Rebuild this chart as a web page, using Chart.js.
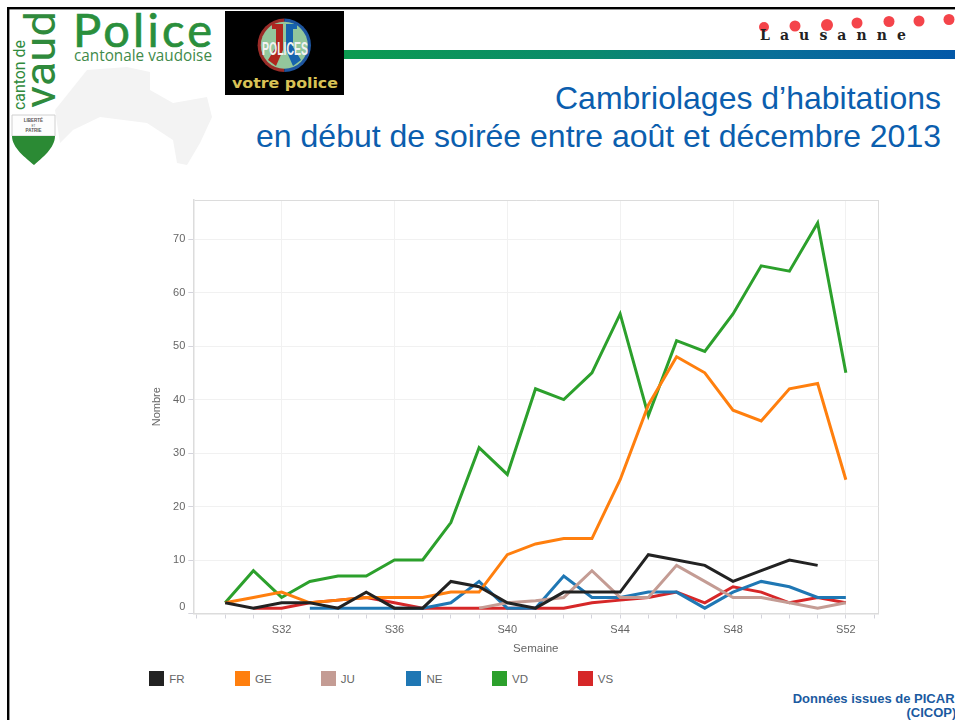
<!DOCTYPE html>
<html lang="fr">
<head>
<meta charset="utf-8">
<title>Cambriolages d'habitations</title>
<script src="https://cdn.jsdelivr.net/npm/chart.js@4"></script>
<style>
html,body{margin:0;padding:0;background:#fff;overflow:hidden;width:955px;height:720px}
#bg{position:absolute;left:0;top:0}
#wrap{position:absolute;left:130px;top:190px;width:760px;height:470px}
#legend{position:absolute;left:0;top:0}
.li{position:absolute;top:671px;height:15px;font:11.5px "Liberation Sans",Arial,sans-serif;color:#666;line-height:16px;white-space:nowrap}
.li i{position:absolute;left:0;top:0;width:15px;height:15px}
.li span{position:absolute;left:20px;top:0}
</style>
</head>
<body>
<svg id="bg" width="955" height="720" viewBox="0 0 955 720" xmlns="http://www.w3.org/2000/svg">
  <defs>
    <linearGradient id="bar" x1="0" x2="1" y1="0" y2="0">
      <stop offset="0" stop-color="#0c9b50"/><stop offset="0.4" stop-color="#0a8a6c"/>
      <stop offset="0.7" stop-color="#096f98"/><stop offset="1" stop-color="#0458a8"/>
    </linearGradient>
  </defs>
  <rect x="7" y="7" width="948" height="2.400" fill="#000"/>
  <rect x="7" y="7" width="2.400" height="713" fill="#000"/>
  <path d="M55 110 87 70 127 67 150 72 150 90 173 103 207 97 212 117 200 143 187 165 177 163 173 140 147 123 100 117 73 130 60 143Z" fill="#f3f3f3"/>
  <text transform="translate(25,110) rotate(-90)" font-family="Roboto,'Liberation Sans'" font-weight="400" font-size="16" fill="#2f8a3c" textLength="70" lengthAdjust="spacingAndGlyphs">canton de</text>
  <text transform="translate(55,108) rotate(-90)" font-family="Roboto,'Liberation Sans'" font-weight="400" font-size="42" fill="#2f8a3c" textLength="97" lengthAdjust="spacingAndGlyphs">vaud</text>
  <path d="M12 115H55V136H12Z" fill="#fdfdfd" stroke="#d0d0d0" stroke-width="1"/>
  <path d="M12 136H55C55 148 42 158 34 165 26 158 12 148 12 136Z" fill="#2b8a34"/>
  <text x="33.500" y="122" text-anchor="middle" font-family="'Liberation Sans'" font-size="4.500" font-weight="bold" fill="#555">LIBERTÉ</text>
  <text x="33.500" y="127" text-anchor="middle" font-family="'Liberation Sans'" font-size="3" fill="#555">ET</text>
  <text x="33.500" y="132" text-anchor="middle" font-family="'Liberation Sans'" font-size="4.500" font-weight="bold" fill="#555">PATRIE</text>
  <text x="73" y="47" font-family="Lato,'Liberation Sans'" font-size="47" fill="#2a8f3c" stroke="#2a8f3c" stroke-width="0.700" textLength="139">Police</text>
  <text x="74" y="61" font-family="'Open Sans','Liberation Sans'" font-size="16.500" fill="#3f8a4a" textLength="138" lengthAdjust="spacingAndGlyphs">cantonale vaudoise</text>

  <rect x="225" y="11" width="119" height="84" fill="#000"/>
  <path d="M284.300 18.600A26.700 26.700 0 0 0 284.300 72Z" fill="#9b2c28"/>
  <path d="M284.300 18.600A26.700 26.700 0 0 1 284.300 72Z" fill="#1d55a0"/>
  <circle cx="284.300" cy="45.300" r="23.500" fill="#93c79c"/>
  <path d="M272 24H283V50L276 66 268 60 276 47V29H272Z" fill="#b0261f"/>
  <path d="M286 24H297V29H293V47L301 60 293 66 286 50Z" fill="#1763ad"/>
  <text x="285" y="55" text-anchor="middle" font-family="'Liberation Sans'" font-weight="bold" font-size="18" fill="#f2f2f2" textLength="46" lengthAdjust="spacingAndGlyphs">POLICES</text>
  <text x="232" y="88" font-family="'DejaVu Sans'" font-weight="bold" font-size="14" fill="#d9c255" textLength="106" lengthAdjust="spacingAndGlyphs">votre police</text>

  <rect x="344" y="50" width="611" height="9" fill="url(#bar)"/>
  <g fill="#f4444a">
    <circle cx="764" cy="27" r="5"/><circle cx="795" cy="26" r="5.500"/><circle cx="827" cy="25" r="6"/>
    <circle cx="857" cy="23" r="5.500"/><circle cx="889" cy="21.500" r="5.500"/><circle cx="919" cy="21" r="5.500"/><circle cx="949" cy="19.500" r="5.500"/>
  </g>
  <text x="760" y="40" font-family="'DejaVu Serif',serif" font-weight="bold" font-size="14" fill="#222" textLength="146">Lausanne</text>

  <g font-family="'Liberation Sans',Arial,sans-serif" font-size="32" fill="#0b5eae" text-anchor="end">
    <text x="941" y="109">Cambriolages d’habitations</text>
    <text x="941" y="147">en début de soirée entre août et décembre 2013</text>
  </g>
  <g font-family="'Liberation Sans',Arial,sans-serif" font-size="13" font-weight="bold" fill="#1a5aa0">
    <text x="792.700" y="702.700">Données issues de PICAR</text>
    <text x="906.500" y="717">(CICOP)</text>
  </g>
</svg>
<div id="wrap"><canvas id="c" width="760" height="470"></canvas></div>
<div id="legend"></div>
<script>
const weeks = [30,31,32,33,34,35,36,37,38,39,40,41,42,43,44,45,46,47,48,49,50,51,52];
const seriesNames = ['FR','GE','JU','NE','VD','VS'];
const seriesColors = ['#222222','#ff7f0e','#c49c94','#1f77b4','#2ca02c','#d62728'];
const FR = [2,1,2,2,1,4,1,1,6,5,2,1,4,4,4,11,10,9,6,8,10,9,null];
const GE = [2,3,4,2,2.5,3,3,3,4,4,11,13,14,14,25,39,48,45,38,36,42,43,25];
const JU = [null,null,null,null,null,null,null,null,null,1,2,2.4,3,8,3,3,9,6,3,3,2,1,2];
const NE = [null,null,null,1,1,1,1,1,2,6,1,1,7,3,3,4,4,1,4,6,5,3,3];
const VD = [2,8,3,6,7,7,10,10,17,31,26,42,40,45,56,37,51,49,56,65,64,73,45];
const VS = [null,1,1,2,2.5,3,2,1,1,1,1,1,1,2,2.5,3,4,2,5,4,2,3,2];
const seriesValues = [FR,GE,JU,NE,VD,VS];
const yTicks = [0,10,20,30,40,50,60,70];
const xLabelWeeks = [32,36,40,44,48,52];
const xMinor = [29,30,31,33,34,35,37,38,39,41,42,43,45,46,47,49,50,51,53];
const xMin = 28.87, xMax = 53.15, yMax = 77.3;

const inkGrid = '#f1f1f1', inkFrame = '#dcdcdc', inkText = '#666666', inkTick = '#d4d4dc';

new Chart(document.getElementById('c'), {
  type: 'line',
  data: {
    datasets: seriesNames.map((name, i) => ({
      label: name,
      data: weeks.map((w, k) => ({x: w, y: seriesValues[i][k]})),
      borderColor: seriesColors[i],
      backgroundColor: seriesColors[i],
      borderWidth: 3,
      pointRadius: 0,
      tension: 0,
      fill: false,
      spanGaps: false
    }))
  },
  options: {
    responsive: false,
    animation: false,
    layout: {padding: {top: 10, right: 11.7, left: 0, bottom: 0}},
    plugins: {legend: {display: false}, tooltip: {enabled: false}},
    scales: {
      x: {
        type: 'linear', min: xMin, max: xMax,
        afterFit: s => { s.height = 46.5; },
        afterBuildTicks: s => {
          s.ticks = [xMin, ...xMinor, ...xLabelWeeks, xMax].sort((a, b) => a - b).map(v => ({value: v}));
        },
        border: {color: inkFrame, width: 1.5},
        grid: {
          drawOnChartArea: true,
          tickLength: 5,
          color: c => c.tick && xLabelWeeks.includes(c.tick.value) ? inkGrid : (c.tick && c.tick.value === xMax ? inkFrame : 'rgba(0,0,0,0)'),
          tickColor: c => c.tick && (c.tick.value === xMin || c.tick.value === xMax) ? 'rgba(0,0,0,0)' : inkTick
        },
        ticks: {
          autoSkip: false, maxRotation: 0, minRotation: 0, padding: 5,
          color: inkText, font: {family: '"Liberation Sans",Arial,sans-serif', size: 11},
          callback: v => xLabelWeeks.includes(v) ? 'S' + v : ''
        },
        title: {display: true, text: 'Semaine', color: inkText, padding: {top: 0, bottom: 4},
          font: {family: '"Liberation Sans",Arial,sans-serif', size: 11.5}}
      },
      y: {
        min: 0, max: yMax,
        afterFit: s => { s.width = 63.3; },
        afterBuildTicks: s => { s.ticks = [...yTicks, yMax].map(v => ({value: v})); },
        border: {color: inkFrame, width: 1.5},
        grid: {
          tickLength: 5,
          color: c => c.tick && c.tick.value === yMax ? inkFrame : (c.tick && c.tick.value === 0 ? 'rgba(0,0,0,0)' : inkGrid),
          tickColor: c => c.tick && c.tick.value === yMax ? 'rgba(0,0,0,0)' : inkTick
        },
        ticks: {
          autoSkip: false, padding: 3,
          color: inkText, font: {family: '"Liberation Sans",Arial,sans-serif', size: 11},
          callback: v => v === yMax ? '' : (v === 0 ? ['0', ''] : String(v))
        },
        title: {display: true, text: 'Nombre', color: inkText, padding: {top: 20, bottom: 0},
          font: {family: '"Liberation Sans",Arial,sans-serif', size: 11}}
      }
    }
  }
});

const legend = document.getElementById('legend');
seriesNames.forEach((name, i) => {
  const d = document.createElement('div');
  d.className = 'li';
  d.style.left = (149.3 + i * 85.7) + 'px';
  d.innerHTML = '<i style="background:' + seriesColors[i] + '"></i><span>' + name + '</span>';
  legend.appendChild(d);
});
</script>
</body>
</html>
